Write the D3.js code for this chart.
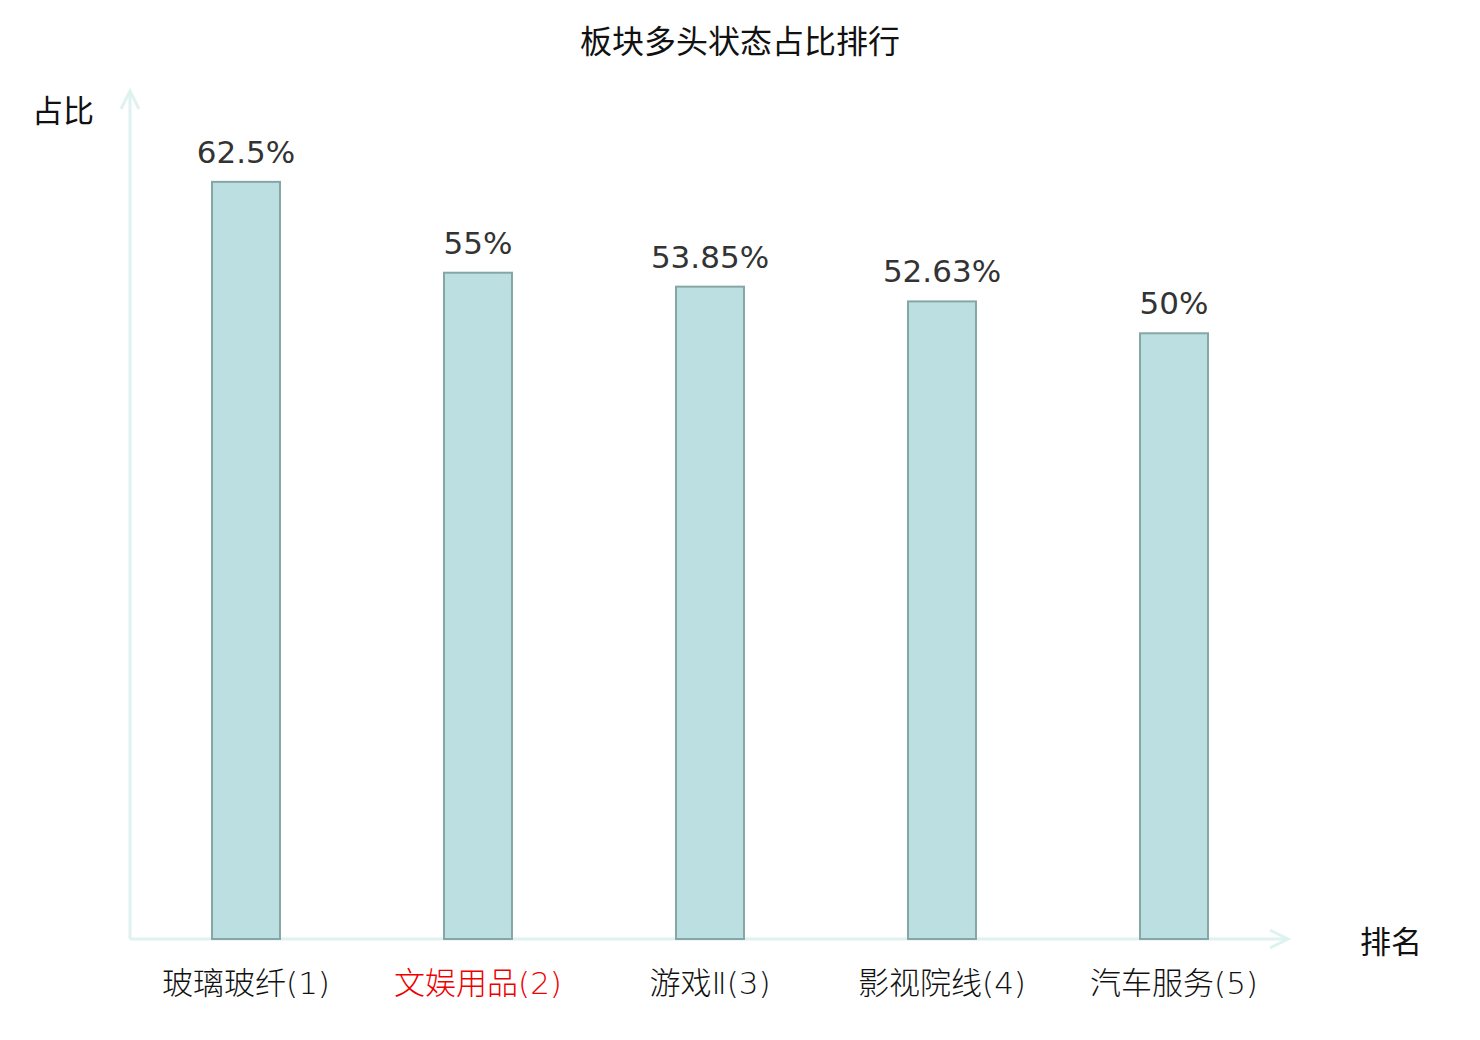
<!DOCTYPE html>
<html>
<head>
<meta charset="utf-8">
<script src="https://cdn.jsdelivr.net/npm/d3@7"></script>
<style>
  html, body { margin: 0; padding: 0; background: #fff; }
  #chart { width: 1480px; height: 1040px; }
  text { font-family: "DejaVu Sans", "Noto Sans CJK SC", sans-serif; }
</style>
</head>
<body>
<div id="chart"></div>
<script>
const categories = ['玻璃玻纤(1)', '文娱用品(2)', '游戏Ⅱ(3)', '影视院线(4)', '汽车服务(5)'];
const values = [62.5, 55, 53.85, 52.63, 50];
const valueLabels = ['62.5%', '55%', '53.85%', '52.63%', '50%'];
const highlighted = ['文娱用品(2)'];

const data = categories.map((c, i) => ({ cat: c, val: values[i], label: valueLabels[i] }));

var svg = d3.select('#chart').append('svg')
  .attr('width', 1480)
  .attr('height', 1040);

var margin = {top: 91, right: 190, bottom: 101, left: 130};
var width = 1480 - margin.left - margin.right;
var height = 1040 - margin.top - margin.bottom;

const xScale = d3.scaleBand()
  .domain(categories)
  .range([0, width])
  .paddingInner(0.707)
  .paddingOuter(0.3535);

const yScale = d3.scaleLinear()
  .domain([0, 70])
  .range([height, 0]);

const axisCol = '#dff2ef';

svg.append('text')
  .attr('x', 740).attr('y', 53)
  .attr('text-anchor', 'middle')
  .attr('font-size', 32)
  .attr('fill', '#111')
  .text('板块多头状态占比排行');

const plotArea = svg.append('g')
  .attr('transform', `translate(${margin.left}, ${margin.top})`);

// axes with arrows
const axes = plotArea.append('g')
  .attr('stroke', axisCol)
  .attr('stroke-width', 3)
  .attr('fill', 'none');
axes.append('line').attr('x1', 0).attr('y1', height).attr('x2', width - 2).attr('y2', height);
axes.append('line').attr('x1', 0).attr('y1', height).attr('x2', 0).attr('y2', 0);
axes.append('path').attr('d', `M${width - 20},${height - 9}L${width - 2},${height}L${width - 20},${height + 9}`);
axes.append('path').attr('d', `M-9,18L0,0L9,18`);

svg.append('text')
  .attr('x', 63).attr('y', 122)
  .attr('text-anchor', 'middle')
  .attr('font-size', 31)
  .attr('fill', '#111')
  .text('占比');

svg.append('text')
  .attr('x', 1391).attr('y', 953)
  .attr('text-anchor', 'middle')
  .attr('font-size', 31)
  .attr('fill', '#111')
  .text('排名');

plotArea.append('g').selectAll('rect')
  .data(data)
  .join('rect')
    .attr('x', d => xScale(d.cat))
    .attr('y', d => yScale(d.val))
    .attr('width', xScale.bandwidth())
    .attr('height', d => height - yScale(d.val))
    .attr('fill', '#bce0e2')
    .attr('stroke', '#86a6a6')
    .attr('stroke-width', 2);

plotArea.append('g').selectAll('text')
  .data(data)
  .join('text')
    .attr('x', d => xScale(d.cat) + xScale.bandwidth() / 2)
    .attr('y', d => yScale(d.val) - 19)
    .attr('text-anchor', 'middle')
    .attr('font-size', 31)
    .attr('fill', '#333')
    .text(d => d.label);

const xAxis = plotArea.append('g')
  .attr('transform', `translate(0, ${height})`)
  .call(d3.axisBottom(xScale).tickSize(0).tickPadding(0));
xAxis.select('.domain').remove();
xAxis.selectAll('text')
  .attr('y', 55)
  .attr('dy', 0)
  .attr('font-size', 31)
  .attr('font-weight', 300)
  .attr('font-family', '"Noto Sans CJK SC", sans-serif')
  .attr('fill', d => highlighted.includes(d) ? '#ee0000' : '#111');
</script>
</body>
</html>
